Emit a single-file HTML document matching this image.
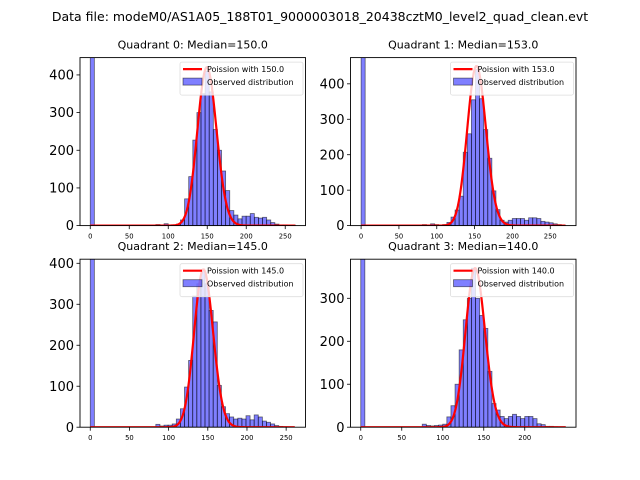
<!DOCTYPE html>
<html><head><meta charset="utf-8"><style>
body{margin:0;background:#fff}
svg{display:block;font-family:"DejaVu Sans","Liberation Sans",sans-serif}
</style></head><body>
<svg id="fig" width="640" height="480" xmlns="http://www.w3.org/2000/svg">
<rect width="640" height="480" fill="#fff"/>
<text x="320" y="21" font-size="12.5" text-anchor="middle">Data file: modeM0/AS1A05_188T01_9000003018_20438cztM0_level2_quad_clean.evt</text>
</svg>
<script>
// quadrant data
const quadNames = ["Quadrant 0","Quadrant 1","Quadrant 2","Quadrant 3"];
const medians = [150.0, 153.0, 145.0, 140.0];
const binWidths = [5.26, 5.4, 5.23, 5.0];
const yMaxes = [446, 474, 410, 391];
const xMins = [-13.15, -14, -13.1, -12.5];
const xMaxes = [276, 284, 274.7, 262.5];
const poissonPeaks = [420, 450, 385, 370];
const xTicks = [[0,50,100,150,200,250],[0,50,100,150,200,250],[0,50,100,150,200,250],[0,50,100,150,200]];
const yTicks = [[0,100,200,300,400],[0,100,200,300,400],[0,100,200,300,400],[0,100,200,300]];
const counts0 = [3000,0,0,0,0,0,0,0,0,0,0,0,0,0,0,0,3,2,5,2,2,4,15,71,130,227,300,350,410,355,255,200,145,93,40,28,18,25,25,32,22,20,22,15,8,4,2,2,1,1];
const counts1 = [3000,0,0,0,0,0,0,0,0,0,0,0,0,0,0,3,2,5,3,2,3,9,24,44,83,207,259,355,440,358,271,190,98,45,15,10,15,20,20,20,15,22,22,20,12,10,8,5,3,1];
const counts2 = [3000,0,0,0,0,0,0,0,0,0,0,0,0,0,0,0,7,3,5,5,8,20,45,98,163,320,350,383,350,285,257,102,50,33,25,20,22,20,28,18,30,25,15,12,8,4,2,1,0,0];
const counts3 = [3000,0,0,0,0,0,0,0,0,0,0,0,0,0,0,7,4,3,4,5,7,24,50,100,180,250,300,370,300,260,230,130,55,40,25,20,25,30,25,20,25,25,20,8,6,2,2,1,0,0];
const allCounts = [counts0, counts1, counts2, counts3];

const NS = "http://www.w3.org/2000/svg";
const svg = document.getElementById('fig');
function mk(tag, attrs, parent){
  const e = document.createElementNS(NS, tag);
  for (const k in attrs) e.setAttribute(k, attrs[k]);
  (parent||svg).appendChild(e); return e;
}
const axBoxes = [[80,57.6,225.5,168],[350.5,57.6,225.5,168],[80,259.2,225.5,168],[350.5,259.2,225.5,168]];
function lnGamma(n){ // Stirling
  if (n < 1) return 0;
  return n*Math.log(n) - n + 0.5*Math.log(2*Math.PI*n) + 1/(12*n);
}
for (let q=0;q<4;q++){
  const [L,T,W,H] = axBoxes[q];
  const xs = v => L + (v - xMins[q]) / (xMaxes[q]-xMins[q]) * W;
  const ys = v => T + H - v / yMaxes[q] * H;
  const g = mk('g', {});
  
  
  const cid = 'clip'+q;
  const cp = mk('clipPath', {id:cid}, g);
  mk('rect', {x:L, y:T, width:W, height:H}, cp);
  const bars = mk('g', {'clip-path':'url(#'+cid+')'}, g);
  
  
  const c = allCounts[q];
  for (let k=0;k<c.length;k++){
    if (c[k] <= 0) continue;
    const x0 = xs(k*binWidths[q]), x1 = xs((k+1)*binWidths[q]);
    const r = mk('rect', {x:x0, y:ys(c[k]), width:x1-x0, height:ys(0)-ys(c[k]), fill:'rgba(0,0,255,0.5)', stroke:'rgba(0,0,0,0.55)', 'stroke-width':0.8}, bars);
    
    
  }
  // poisson curve
  const lam = medians[q];
  const lmax = lam*Math.log(lam) - lam - lnGamma(Math.floor(lam));
  const xEnd = c.length*binWidths[q];
  let d = '';
  for (let v=0; v<=xEnd; v+=1){
    const lp = (v===0? -lam : v*Math.log(lam) - lam - lnGamma(v));
    const y = poissonPeaks[q]*Math.exp(lp - lmax);
    d += (v===0?'M':'L') + xs(v).toFixed(2) + ',' + ys(y).toFixed(2);
  }
  const pl = mk('path', {d:d, fill:'none', stroke:'#ff0000', 'stroke-width':2.2, 'clip-path':'url(#'+cid+')'}, g);
  
  
  // frame
  const fr = mk('rect', {x:L, y:T, width:W, height:H, fill:'none', stroke:'#000', 'stroke-width':0.9}, g);
  
  
  // ticks
  for (const t of xTicks[q]){
    const x = xs(t);
    mk('line', {x1:x, x2:x, y1:T+H, y2:T+H+3.5, stroke:'#000', 'stroke-width':0.8}, g);
    const tl = mk('text', {x:x, y:T+H+13, 'font-size':6.8, 'text-anchor':'middle'}, g);
    tl.textContent = t;
    
    
  }
  for (const t of yTicks[q]){
    const y = ys(t);
    mk('line', {x1:L-3.5, x2:L, y1:y, y2:y, stroke:'#000', 'stroke-width':0.8}, g);
    const tl = mk('text', {x:L-6, y:y+4.6, 'font-size':13, 'text-anchor':'end'}, g);
    tl.textContent = t;
    
    
  }
  const ti = mk('text', {x:L+W/2, y:T-9, 'font-size':11, 'text-anchor':'middle'}, g);
  ti.textContent = quadNames[q] + ': Median=' + medians[q].toFixed(1);
  
  
  // legend
  const lg = mk('g', {}, g);
  
  
  const lx = L+W-125.5, ly = T+4.5;
  mk('rect', {x:lx, y:ly, width:123, height:33, rx:2, fill:'rgba(255,255,255,0.8)', stroke:'#ddd', 'stroke-width':0.8}, lg);
  mk('line', {x1:lx+3, x2:lx+22, y1:ly+7, y2:ly+7, stroke:'#f00', 'stroke-width':2.2}, lg);
  const t1 = mk('text', {x:lx+27, y:ly+10, 'font-size':8}, lg);
  t1.textContent = 'Poission with ' + medians[q].toFixed(1);
  
  
  mk('rect', {x:lx+3, y:ly+16, width:19, height:7, fill:'rgba(0,0,255,0.5)', stroke:'rgba(0,0,0,0.55)', 'stroke-width':0.8}, lg);
  const t2 = mk('text', {x:lx+27, y:ly+23, 'font-size':8}, lg);
  t2.textContent = 'Observed distribution';
  
  
}
</script>
</body></html>
